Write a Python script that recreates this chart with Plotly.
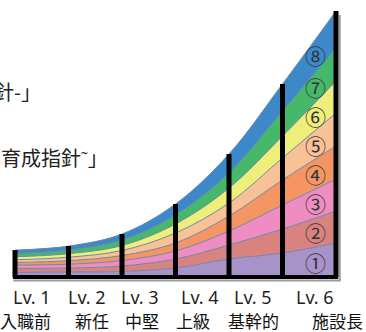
import numpy as np
import plotly.graph_objects as go

# Career stages along the horizontal axis
stage_idx = [0, 1, 2, 3, 4, 5, 6]
levels_en = ["Lv. 1", "Lv. 2", "Lv. 3", "Lv. 4", "Lv. 5", "Lv. 6"]
levels_ja = ["入職前", "新任", "中堅", "上級", "基幹的", "施設長"]

# Thickness of each competency band at every stage boundary
band_1 = [4.5, 5.0, 5.5, 9, 18, 24, 34]
band_2 = [4.0, 4.0, 5.5, 9, 14, 24, 32]
band_3 = [3.4, 3.8, 5.5, 8, 14, 24, 32]
band_4 = [2.6, 3.5, 5.0, 8, 15, 25, 33]
band_5 = [2.7, 3.5, 5.0, 10, 13, 22, 33]
band_6 = [3.0, 3.5, 5.0, 9, 15, 22, 32]
band_7 = [3.3, 3.6, 5.5, 9, 15, 25, 33]
band_8 = [3.4, 4.0, 6.0, 11, 19, 27, 37]
band_labels = ["①", "②", "③", "④", "⑤", "⑥", "⑦", "⑧"]

bands = [band_1, band_2, band_3, band_4, band_5, band_6, band_7, band_8]
fills = ["#a893c9", "#d98381", "#ef8dc3", "#f59563", "#f9c196",
         "#eeee7a", "#45b86a", "#3d88c9"]

FONT = "Noto Sans CJK JP"

fig = go.Figure()

for vals, col in zip(bands, fills):
    fig.add_trace(go.Scatter(
        x=stage_idx, y=vals, stackgroup="skills", mode="lines",
        line=dict(color="#6a88ab", width=1, shape="spline"),
        fillcolor=col, hoverinfo="skip", showlegend=False,
    ))

totals = np.sum(np.array(bands), axis=0)

# thin grey shadow along the bottom and right edge
fig.add_trace(go.Scatter(
    x=[-0.03, 6.07, 6.07], y=[-3.5, -3.5, totals[-1] - 4],
    mode="lines", line=dict(color="#9a9a9a", width=2),
    hoverinfo="skip", showlegend=False,
))

# black stage dividers, each as tall as the stack at that point
vx, vy = [], []
for i, t in zip(stage_idx, totals):
    vx += [i, i, None]
    vy += [0, t, None]
fig.add_trace(go.Scatter(
    x=vx, y=vy, mode="lines", line=dict(color="black", width=5),
    hoverinfo="skip", showlegend=False,
))

# baseline
fig.add_trace(go.Scatter(
    x=[-0.04, 6.04], y=[0, 0], mode="lines",
    line=dict(color="black", width=4), hoverinfo="skip", showlegend=False,
))

annotations = []

# circled band numbers, centred in each band near the right edge
lab_x = 5.62
frac = lab_x - 5
cum5 = np.cumsum([b[5] for b in bands])
cum6 = np.cumsum([b[6] for b in bands])
cum_at = cum5 + frac * (cum6 - cum5)
lower = np.concatenate([[0], cum_at[:-1]])
for lab, lo, hi in zip(band_labels, lower, cum_at):
    annotations.append(dict(
        x=lab_x, y=(lo + hi) / 2, xref="x", yref="y", text=lab,
        showarrow=False,
        font=dict(family=FONT, size=21, color="#333333"),
    ))

# stage names under the chart
en_x = [0.32, 1.35, 2.34, 3.46, 4.45, 5.61]
ja_x = [0.20, 1.44, 2.37, 3.33, 4.45, 6.02]
for x, t in zip(en_x, levels_en):
    annotations.append(dict(
        x=x, y=-20, xref="x", yref="y", text=t, showarrow=False,
        font=dict(family="Noto Sans", size=18, color="#222222"),
    ))
for x, t in zip(ja_x, levels_ja):
    annotations.append(dict(
        x=x, y=-43, xref="x", yref="y", text=t, showarrow=False,
        font=dict(family=FONT, size=17, color="#111111"),
    ))

# title fragments on the left
annotations.append(dict(
    x=-8 / 366, y=1 - 91 / 332, xref="paper", yref="paper", text="針-」",
    xanchor="left", yanchor="middle", showarrow=False,
    font=dict(family=FONT, size=20, color="#222222"),
))
annotations.append(dict(
    x=-1 / 366, y=1 - 157 / 332, xref="paper", yref="paper", text="育成指針˜」",
    xanchor="left", yanchor="middle", showarrow=False,
    font=dict(family=FONT, size=20, color="#222222"),
))

unit = 53.5
fig.update_layout(
    width=366, height=332,
    margin=dict(l=0, r=0, t=0, b=0),
    paper_bgcolor="white", plot_bgcolor="white",
    showlegend=False,
    xaxis=dict(range=[-15 / unit, 6 + 30 / unit], visible=False, fixedrange=True),
    yaxis=dict(range=[-55, 277], visible=False, fixedrange=True),
    annotations=annotations,
)

fig.write_html("out.html")
